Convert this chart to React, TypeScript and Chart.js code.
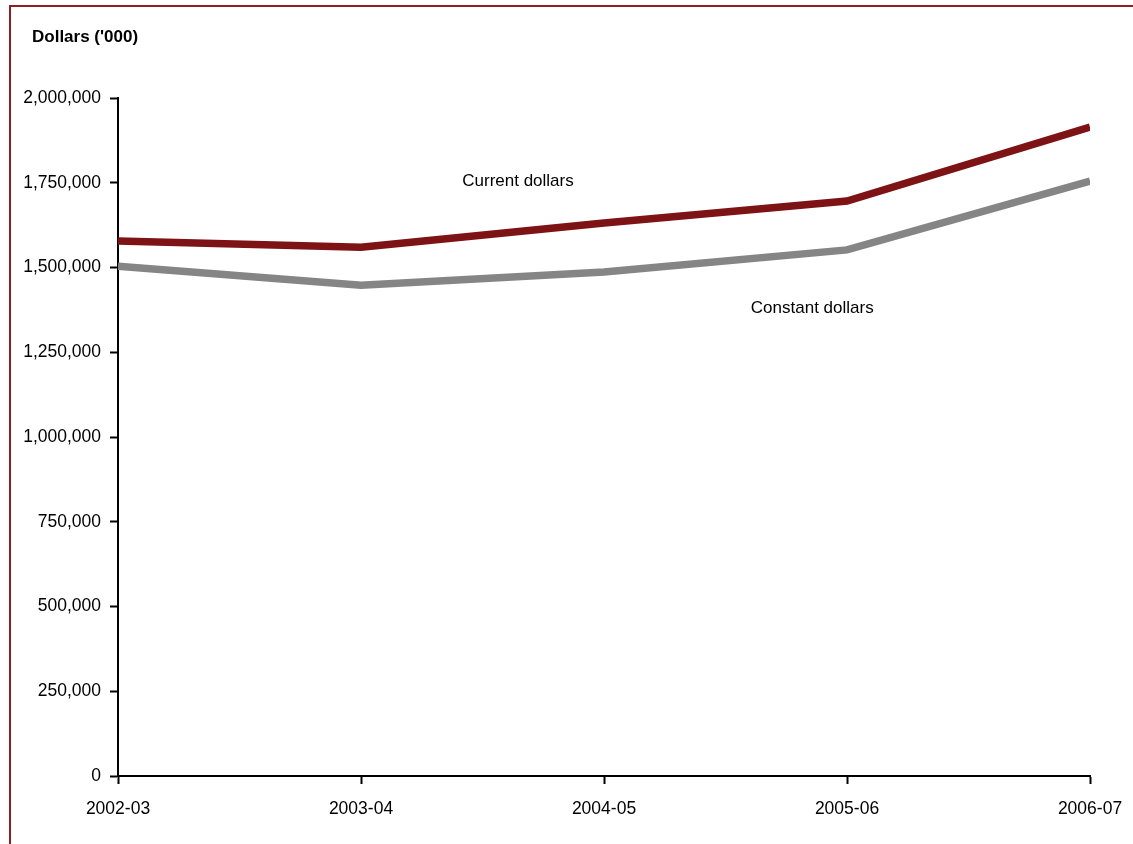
import React, { useEffect, useRef } from "react";
import { Chart, registerables } from "chart.js";

Chart.register(...registerables);

const categories = ["2002-03", "2003-04", "2004-05", "2005-06", "2006-07"];
const currentDollars = [1578000, 1560000, 1631000, 1696000, 1914000];
const constantDollars = [1504000, 1448000, 1487000, 1552000, 1755000];
const yTickStep = 250000;
const yMax = 2000000;
const axisTitle = "Dollars ('000)";
const currentLabel = "Current dollars";
const constantLabel = "Constant dollars";

const FONT = "'Liberation Sans Narrow', 'Arial Narrow', 'Liberation Sans', Arial, sans-serif";

export default function App() {
  const ref = useRef<HTMLCanvasElement | null>(null);

  useEffect(() => {
    if (!ref.current) return;
    const labelPlugin = {
      id: "seriesLabels",
      afterDraw(chart: any) {
        const ctx = chart.ctx;
        const xs = chart.scales.x;
        const ys = chart.scales.y;
        ctx.save();
        ctx.fillStyle = "#000";
        ctx.textBaseline = "middle";
        ctx.font = `bold 17px ${FONT}`;
        ctx.textAlign = "left";
        ctx.fillText(axisTitle, 32, 37);
        ctx.font = `17px ${FONT}`;
        ctx.textAlign = "center";
        ctx.fillText(currentLabel, xs.getPixelForValue(1.646), ys.getPixelForValue(1755000));
        ctx.fillText(constantLabel, xs.getPixelForValue(2.857), ys.getPixelForValue(1379000));
        ctx.restore();
      },
    };

    const chart = new Chart(ref.current, {
      type: "line",
      data: {
        labels: categories,
        datasets: [
          {
            label: currentLabel,
            data: currentDollars,
            borderColor: "#7d1315",
            borderWidth: 7.5,
            pointRadius: 0,
            tension: 0,
            clip: 0,
            borderCapStyle: "butt",
          },
          {
            label: constantLabel,
            data: constantDollars,
            borderColor: "#858585",
            borderWidth: 7.5,
            pointRadius: 0,
            tension: 0,
            clip: 0,
            borderCapStyle: "butt",
          },
        ],
      },
      options: {
        animation: false,
        responsive: false,
        devicePixelRatio: 1,
        layout: { padding: { top: 98, right: 43, bottom: 0, left: 0 } },
        plugins: { legend: { display: false }, tooltip: { enabled: false }, title: { display: false } },
        scales: {
          x: {
            type: "category",
            offset: false,
            grid: {
              drawOnChartArea: false,
              drawTicks: true,
              tickLength: 8,
              tickColor: "#000",
              tickWidth: 2,
            },
            border: { display: true, color: "#000", width: 2 },
            ticks: {
              color: "#000",
              font: { family: FONT, size: 17.5 },
              padding: 15,
              maxRotation: 0,
              autoSkip: false,
            },
            afterFit(scale: any) {
              scale.height = 68;
              scale.paddingLeft = 0;
              scale.paddingRight = 0;
            },
          },
          y: {
            min: 0,
            max: yMax,
            grid: {
              drawOnChartArea: false,
              drawTicks: true,
              tickLength: 8,
              tickColor: "#000",
              tickWidth: 2,
            },
            border: { display: true, color: "#000", width: 2 },
            ticks: {
              stepSize: yTickStep,
              color: "#000",
              font: { family: FONT, size: 17.5 },
              padding: 9,
              callback: (v: any) => Number(v).toLocaleString("en-US"),
            },
            afterFit(scale: any) {
              scale.width = 118;
              scale.paddingTop = 0;
              scale.paddingBottom = 0;
            },
          },
        },
      },
      plugins: [labelPlugin],
    } as any);
    return () => chart.destroy();
  }, []);

  return (
    <div style={{ position: "fixed", left: 0, top: 0, width: 1133, height: 844, background: "#fff" }}>
      <div
        style={{
          position: "absolute",
          left: 9,
          top: 5,
          right: 0,
          bottom: 0,
          borderLeft: "2px solid #8e1d24",
          borderTop: "2px solid #8e1d24",
        }}
      />
      <canvas ref={ref} width={1133} height={844} style={{ position: "absolute", left: 0, top: 0, display: "block" }} />
    </div>
  );
}
